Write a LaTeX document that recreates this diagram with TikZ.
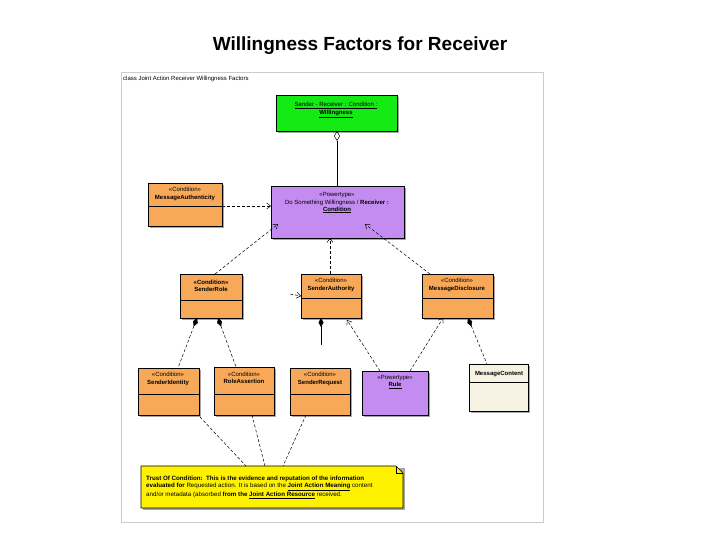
\documentclass[tikz,border=0pt]{standalone}
\usepackage{fontspec}
\setmainfont{Liberation Sans}
\usetikzlibrary{arrows.meta,shapes.geometric}
\begin{document}
\begin{tikzpicture}[x=1pt,y=-1pt,
  lbl/.style={font=\fontsize{6}{7.2}\selectfont,align=center,inner sep=0pt},
  dep/.style={densely dashed,line width=0.5pt,-{Straight Barb[length=4pt,width=6pt]}},
  comp/.style={densely dashed,line width=0.5pt,{Diamond[length=9pt,width=5pt,fill=black]}-},
  sh/.style={fill=black!35}]
\useasboundingbox (0,0) rectangle (720,540);
\node[font=\bfseries\fontsize{19}{22}\selectfont] (title) at (360,46) {Willingness Factors for Receiver};
\draw[black!20,line width=1pt] (121,73) rectangle (543,522);
\node[anchor=west,font=\fontsize{6}{7}\selectfont,inner sep=0pt] (frm) at (123,79) {class Joint Action Receiver Willingness Factors};
\newcommand{\umlbox}[7]{%
  \fill[sh] (#2+2,#3+2) rectangle (#4+2,#5+2);
  \draw[fill=#7,line width=0.6pt] (#2,#3) rectangle (#4,#5);
  \ifx&#6&\else\draw[line width=0.6pt] (#2,#6) -- (#4,#6);\fi
  \coordinate (#1) at ({(#2+#4)/2},{(#3+#5)/2});}
\definecolor{org}{RGB}{247,168,88}
\definecolor{pur}{RGB}{196,140,240}
\definecolor{grn}{RGB}{20,235,20}
\definecolor{crm}{RGB}{246,242,228}
\umlbox{g}{276}{95}{397}{131}{}{grn}
\node[lbl] (gt) at (336,110) {\underline{Sender - Receiver : Condition :}\\[1pt]\underline{\textbf{Willingness}}};
\umlbox{p}{271}{186}{404}{238}{}{pur}
\node[lbl] (pt) at (337,203) {«Powertype»\\Do Something Willingness / \textbf{Receiver :}\\\underline{\textbf{Condition}}};
\umlbox{ma}{148}{183}{222}{226}{206}{org}
\node[lbl] (mat) at (185,194) {«Condition»\\\textbf{MessageAuthenticity}};
\umlbox{sr}{180}{274}{242}{318}{300}{org}
\node[lbl] (srt) at (211,286) {\textbf{«Condition»}\\\textbf{SenderRole}};
\umlbox{sa}{301}{274}{361}{318}{298}{org}
\node[lbl] (sat) at (331,285) {«Condition»\\\textbf{SenderAuthority}};
\umlbox{md}{422}{274}{493}{318}{298}{org}
\node[lbl] (mdt) at (457,285) {«Condition»\\\textbf{MessageDisclosure}};
\umlbox{si}{138}{368}{199}{415}{394}{org}
\node[lbl] (sit) at (168,379) {«Condition»\\\textbf{SenderIdentity}};
\umlbox{ra}{214}{367}{274}{415}{394}{org}
\node[lbl] (rat) at (244,378) {«Condition»\\\textbf{RoleAssertion}};
\umlbox{sq}{290}{368}{350}{415}{394}{org}
\node[lbl] (sqt) at (320,379) {«Condition»\\\textbf{SenderRequest}};
\umlbox{ru}{362}{371}{428}{415}{}{pur}
\node[lbl] (rut) at (395,382) {«Powertype»\\\underline{\textbf{Rule}}};
\umlbox{mc}{469}{364}{528}{411}{382}{crm}
\node[lbl] (mct) at (499,374) {\textbf{MessageContent}};
\fill[sh] (143,468) rectangle (405,510);
\draw[fill=yellow,line width=0.6pt] (141,466) -- (396,466) -- (403,473) -- (403,508) -- (141,508) -- cycle;
\draw[line width=0.5pt] (396,466) -- (396,473) -- (403,473);
\node[anchor=west,font=\fontsize{6.2}{7.6}\selectfont,align=left,inner sep=0pt] (note) at (146,487) {\textbf{Trust Of Condition:\ \ This is the evidence and reputation of the information}\\\textbf{evaluated for} Requested action. It is based on the \underline{\textbf{Joint Action Meaning}} content\\and/or metadata (absorbed \textbf{from the \underline{Joint Action Resource}} received.};
\draw[line width=0.5pt,{Diamond[open,length=10pt,width=6pt]}-] (337,131) -- (337,186);
\draw[dep] (215,274) -- (278,224);
\draw[dep] (330,274) -- (330,238);
\draw[dep] (430,274) -- (365,224);
\draw[dep] (222,206) -- (271,206);
\draw[dep] (290,294) -- (301,296);
\draw[dep] (380,371) -- (347,320);
\draw[dep] (410,371) -- (443,318);
\draw[comp] (197,318) -- (178,368);
\draw[comp] (218,318) -- (236,367);
\draw[comp,solid] (321,318) -- (321,345);
\draw[comp] (468,318) -- (487,364);
\draw[densely dashed,line width=0.5pt] (200,417) -- (246,466);
\draw[densely dashed,line width=0.5pt] (252,415) -- (265,466);
\draw[densely dashed,line width=0.5pt] (306,415) -- (283,466);
\end{tikzpicture}
\end{document}
